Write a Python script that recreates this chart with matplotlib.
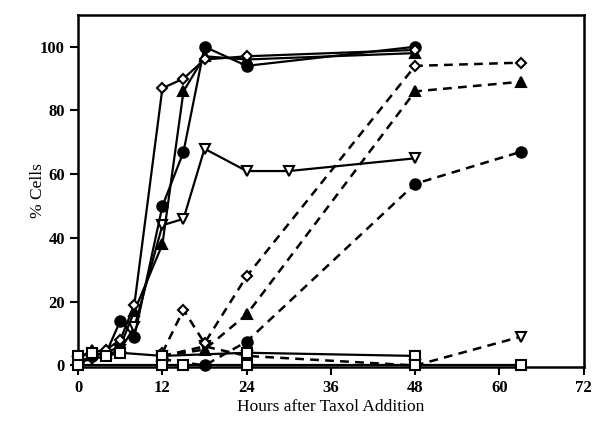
import numpy as np
import matplotlib.pyplot as plt

plt.rcParams['font.family'] = ['Liberation Serif', 'DejaVu Serif']

# continuous taxol (solid lines)
hrs_a = [0, 2, 4, 6, 8, 12, 15, 18, 24, 48]
diamond_a = [3, 4, 5, 8, 19, 87, 90, 96, 97, 99]
triangle_a = [2, 5, 4, 6, 17, 38, 86, 97, 96, 98]
circle_a = [1, 3, 4, 14, 9, 50, 67, 100, 94, 100]

hrs_inv = [0, 2, 4, 6, 8, 12, 15, 18, 24, 30, 48]
invtri_a = [1, 2, 3, 5, 12, 44, 46, 68, 61, 61, 65]

hrs_sq = [0, 2, 4, 6, 12, 24, 48]
square_a = [3, 4, 3, 4, 3, 4, 3]

hrs_ctrl = [0, 12, 15, 24, 48, 63]
square_ctrl = [0, 0, 0, 0, 0, 0]

# taxol removed (dashed lines)
hrs_b = [12, 15, 18, 24, 48, 63]
diamond_b = [4, 17.5, 7, 28, 94, 95]
hrs_b2 = [12, 18, 24, 48, 63]
triangle_b = [3, 5, 16, 86, 89]
circle_b = [2, 0, 7.5, 57, 67]
invtri_b = [3, 6, 3, 0, 9]

fig = plt.figure(figsize=(5.92, 4.37), dpi=100)
ax = fig.add_axes([0.132, 0.16, 0.854, 0.806])

solid = dict(color='black', lw=1.6, ms=7.5, mew=1.5, clip_on=False, zorder=3)
dash = dict(color='black', lw=1.8, ms=7.5, mew=1.5, clip_on=False, zorder=3,
            linestyle=(0, (3.5, 2.5)))

ax.plot(hrs_b2, invtri_b, marker='v', mfc='white', **dash)
ax.plot(hrs_b2, circle_b, marker='o', mfc='black', **dash)
ax.plot(hrs_b2, triangle_b, marker='^', mfc='black', **dash)
ax.plot(hrs_b, diamond_b, marker='D', mfc='white', **dict(dash, ms=5.5))

ax.plot(hrs_inv, invtri_a, marker='v', mfc='white', **solid)
ax.plot(hrs_a, triangle_a, marker='^', mfc='black', **solid)
ax.plot(hrs_a, circle_a, marker='o', mfc='black', **solid)
ax.plot(hrs_a, diamond_a, marker='D', mfc='white', **dict(solid, ms=5.5))
ax.plot(hrs_sq, square_a, marker='s', mfc='white', **solid)
ax.plot(hrs_ctrl, square_ctrl, marker='s', mfc='white', **dict(solid, zorder=4))

ax.set_xlim(0, 72)
ax.set_ylim(-0.5, 110)
ax.set_xticks(np.arange(0, 73, 12))
ax.set_yticks(np.arange(0, 101, 20))
for s in ax.spines.values():
    s.set_linewidth(1.8)
ax.tick_params(direction='out', length=6, width=1.5, labelsize=12)
for lab in ax.get_xticklabels() + ax.get_yticklabels():
    lab.set_fontweight('bold')

ax.set_xlabel('Hours after Taxol Addition', fontsize=12.5)
ax.set_ylabel('% Cells', fontsize=12.5)
ax.xaxis.set_label_coords(0.5, -0.09)
ax.yaxis.set_label_coords(-0.063, 0.5)

fig.savefig('out.png', dpi=100)
